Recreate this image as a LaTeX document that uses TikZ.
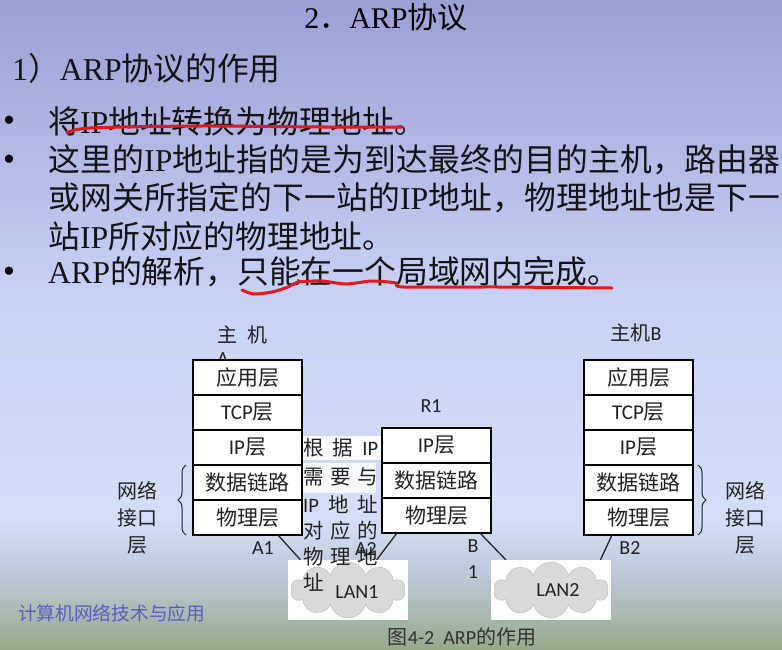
\documentclass[tikz,border=0pt]{standalone}
\usepackage{fontspec}
\setmainfont{Noto Sans CJK SC}
\newfontfamily\tnr{Liberation Serif}
\newfontfamily\clb{Carlito}
\usetikzlibrary{positioning,shapes.symbols,decorations.pathreplacing}

\definecolor{bgtop}{RGB}{155,160,214}
\definecolor{bgmid}{RGB}{200,210,244}
\definecolor{bglow}{RGB}{212,222,246}
\definecolor{bgfade}{RGB}{186,199,212}
\definecolor{bgfoot}{RGB}{150,170,138}
\definecolor{penred}{RGB}{226,24,28}
\definecolor{footblue}{RGB}{88,92,196}
\definecolor{inkgray}{RGB}{34,34,34}

% spread the characters of one line over the width of its box
\def\sprdNil{sprdnil}
\def\sprd#1{\sprdA#1\sprdEnd}
\def\sprdA#1#2\sprdEnd{#1\ifx\sprdNil#2\sprdNil\else\hfil\sprdA#2\sprdEnd\fi}

\begin{document}
\begin{tikzpicture}[x=1pt, y=-1pt,
  slide/.style={anchor=west, inner sep=0pt, text=black!92,
                font=\fontsize{31.8}{38}\selectfont},
  dot/.style={inner sep=0pt, font=\tnr\fontsize{34}{36}\selectfont},
  pen/.style={penred, line width=3pt, line cap=round, line join=round},
  layer/.style={rectangle, draw=black, line width=1.2pt, fill=white,
                minimum width=109pt, minimum height=35pt, inner sep=0pt,
                outer sep=0pt, font=\fontsize{21}{24}\selectfont, text=inkgray},
  tag/.style={inner sep=0pt, text=inkgray, font=\fontsize{20}{24}\selectfont},
  note/.style={anchor=west, inner sep=0pt, text=inkgray,
               font=\fontsize{20.5}{24}\selectfont},
  brace/.style={decorate, decoration={brace, amplitude=8pt},
                line width=1pt, inkgray},
  link/.style={line width=1.3pt, black!85},
  lanbox/.style={fill=white, minimum width=120pt, minimum height=60pt, inner sep=0pt},
  lan/.style={cloud, cloud puffs=10, cloud ignores aspect, fill=gray!30,
              draw=gray!55, minimum width=114pt, minimum height=56pt}
]
% background
\shade[top color=bgtop, bottom color=bgmid] (0,0) rectangle (782,300.5);
\shade[top color=bgmid, bottom color=bglow] (0,300) rectangle (782,520.5);
\shade[top color=bglow, bottom color=bgfade] (0,520) rectangle (782,580.5);
\shade[top color=bgfade, bottom color=bgfoot] (0,580) rectangle (782,649);
\useasboundingbox (0,0) rectangle (782,649);

% slide text
\node[inner sep=0pt, font=\fontsize{30}{36}\selectfont] (title) at (386,17)
  {{\tnr 2}．{\tnr ARP}协议};
\node[slide] (sub) at (12,68) {{\tnr 1}）{\tnr ARP}协议的作用};
\foreach \yy [count=\i] in {124,163,275}
  \node[dot] (dot\i) at (9,\yy) {•};
\node[slide] (p1) at (48,121) {将{\tnr IP}地址转换为物理地址。};
\node[slide] (p2) at (48,160)
  {\hbox to 732pt{\sprd{这里的{{\tnr IP}}地址指的是为到达最终的目的主机，路由器}}};
\node[slide] (p3) at (48,198)
  {\hbox to 732pt{\sprd{或网关所指定的下一站的{{\tnr IP}}地址，物理地址也是下一}}};
\node[slide] (p4) at (48,236) {站{\tnr IP}所对应的物理地址。};
\node[slide] (p5) at (48,272) {{\tnr ARP}的解析，只能在一个局域网内完成。};

% hand-drawn underlines
\draw[pen] plot[smooth] coordinates {(67,133) (90,128) (200,126) (320,127) (402,127)};
\draw[pen] plot[smooth] coordinates {(242,290) (254,294) (272,292) (288,287)
  (299,282) (322,281) (346,284) (372,281) (396,283) (404,287) (500,287) (612,288)};

% host names
\node[tag] (nameA) at (242,335) {主\hspace{10pt}机};
\node[tag] (nameAA) at (223,359) {\clb A};
\node[tag] (nameR) at (431,406) {\clb R1};
\node[tag] (nameB) at (636,333) {主机{\clb B}};

% host A
\node[layer] (a1) at (247.5,377.5) {应用层};
\node[layer, below=0pt of a1] (a2) {{\clb TCP}层};
\node[layer, below=0pt of a2] (a3) {{\clb IP}层};
\node[layer, below=0pt of a3] (a4) {数据链路};
\node[layer, below=0pt of a4] (a5) {物理层};

% router R1
\node[layer] (r1) at (436.5,445.5) {{\clb IP}层};
\node[layer, below=0pt of r1] (r2) {数据链路};
\node[layer, below=0pt of r2] (r3) {物理层};

% host B
\node[layer] (b1) at (638.5,377.5) {应用层};
\node[layer, below=0pt of b1] (b2) {{\clb TCP}层};
\node[layer, below=0pt of b2] (b3) {{\clb IP}层};
\node[layer, below=0pt of b3] (b4) {数据链路};
\node[layer, below=0pt of b4] (b5) {物理层};

% network interface layer
\draw[brace] ([xshift=-7pt]a5.south west) -- ([xshift=-7pt]a4.north west);
\draw[brace] ([xshift=5pt]b4.north east) -- ([xshift=5pt]b5.south east);
\node[tag, align=center, font=\fontsize{20}{27}\selectfont] (netA) at (137,518) {网络\\接口\\层};
\node[tag, align=center, font=\fontsize{20}{27}\selectfont] (netB) at (745,518) {网络\\接口\\层};

% LANs
\node[lanbox] (lan1box) at (348,590) {};
\node[lan] (lan1) at (348,590) {};
\node[tag] (lan1t) at (357,592) {\clb LAN1};
\node[lanbox] (lan2box) at (551,590) {};
\node[lan] (lan2) at (551,590) {};
\node[tag] (lan2t) at (558,590) {\clb LAN2};

% links
\draw[link] ([xshift=-24pt]a5.south east) -- ([xshift=12.6pt]lan1box.north west);
\draw[link] ([xshift=15pt]r3.south west) -- ([xshift=-31.5pt]lan1box.north east);
\draw[link] ([xshift=-11pt]r3.south east) -- ([xshift=15pt]lan2box.north west);
\draw[link] ([xshift=28pt]b5.south west) -- ([xshift=-10.7pt]lan2box.north east);
\node[tag] (lA1) at (263,548) {\clb A1};
\node[tag] (lA2) at (366,549) {\clb A2};
\node[tag, align=center, font=\clb\fontsize{20}{26}\selectfont] (lB1) at (473,559) {B\\1};
\node[tag] (lB2) at (630,548) {\clb B2};

% note between host A and R1
\fill[white, opacity=0.95] (303,436) rectangle (381,460);
\fill[white, opacity=0.85] (303,463) rectangle (376,493);
\foreach \yy/\txt [count=\i] in {448/{根\hfil 据\hfil {\clb IP}}, 477/{需\hfil 要\hfil 与},
    504/{{\clb IP}\hfil 地\hfil 址}, 531/{对\hfil 应\hfil 的}, 557/{物\hfil 理\hfil 地}, 582/{址\hfil}}
  \node[note] (note\i) at (303,\yy) {\hbox to 75pt{\txt}};

% footer and caption
\node[anchor=west, inner sep=0pt, text=footblue, font=\fontsize{18.7}{22}\selectfont]
  (foot) at (18,613) {计算机网络技术与应用};
\node[tag, text=black!80] (cap) at (462,637) {图{\clb 4-2\ \ ARP}的作用};
\end{tikzpicture}
\end{document}
